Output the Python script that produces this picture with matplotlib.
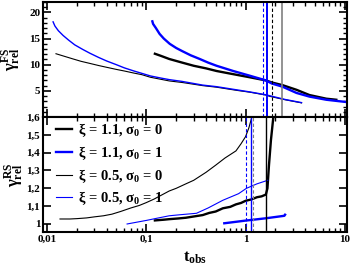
import matplotlib
matplotlib.use("Agg")
import matplotlib.pyplot as plt
from matplotlib.ticker import FixedLocator, LogLocator, NullFormatter

plt.rcParams['font.family'] = ['Liberation Serif', 'DejaVu Serif']
plt.rcParams['font.weight'] = 'bold'
plt.rcParams['mathtext.fontset'] = 'custom'
plt.rcParams['mathtext.rm'] = 'Liberation Serif:bold'
plt.rcParams['mathtext.it'] = 'Liberation Serif:bold'
plt.rcParams['mathtext.bf'] = 'Liberation Serif:bold'

# ---- FS (top panel) ----
fs_t_11_0 = [0.122, 0.14, 0.17, 0.23, 0.3, 0.4, 0.51, 0.7, 1.1, 1.6, 1.84, 2.35, 3.26, 4.4, 6.5, 8.2]
fs_g_11_0 = [12.1, 11.7, 11.1, 10.4, 9.8, 9.3, 8.8, 8.3, 7.6, 7.0, 6.6, 6.1, 5.2, 4.2, 3.5, 3.3]

fs_t_11_1 = [0.115, 0.117, 0.125, 0.136, 0.15, 0.172, 0.2, 0.23, 0.28, 0.345, 0.42, 0.51, 0.75, 1.1, 1.6,
             1.84, 2.35, 3.26, 4.4, 6.5, 10.5]
fs_g_11_1 = [18.3, 17.8, 17.0, 15.9, 15.0, 14.0, 13.2, 12.6, 11.8, 11.1, 10.4, 9.8, 8.8, 7.9, 7.0,
             6.4, 5.8, 4.6, 3.9, 3.3, 2.85]

fs_t_05_0 = [0.0123, 0.015, 0.0183, 0.022, 0.027, 0.033, 0.04, 0.05, 0.06, 0.075, 0.09, 0.11, 0.17,
             0.23, 0.37, 0.51, 0.81, 1.1, 1.6, 1.75, 2.5, 3.66]
fs_g_05_0 = [12.1, 11.6, 11.1, 10.65, 10.25, 9.85, 9.5, 9.1, 8.8, 8.4, 8.1, 7.6, 6.9,
             6.6, 6.0, 5.7, 5.1, 4.75, 4.2, 3.95, 3.3, 2.7]

fs_t_05_1 = [0.0115, 0.012, 0.013, 0.0145, 0.0165, 0.019, 0.023, 0.027, 0.033, 0.04, 0.05, 0.06, 0.075,
             0.09, 0.11, 0.14, 0.17, 0.23, 0.37, 0.51, 0.81, 1.1, 1.6, 2.5, 3.66]
fs_g_05_1 = [18.2, 17.4, 16.5, 15.6, 14.7, 13.8, 12.9, 12.2, 11.4, 10.7, 10.0, 9.4, 8.8,
             8.35, 7.85, 7.45, 7.15, 6.8, 6.1, 5.8, 5.2, 4.8, 4.25, 3.35, 2.75]

fs_vlines = [1.49, 1.64, 1.84, 2.35]

# ---- RS (bottom panel) ----
rs_t_11_0 = [0.122, 0.15, 0.17, 0.21, 0.25, 0.3, 0.37, 0.43, 0.5, 0.59, 0.7, 0.8, 0.9, 1.0, 1.15,
             1.3, 1.45, 1.6, 1.66, 1.72, 1.8, 1.92]
rs_g_11_0 = [1.02, 1.024, 1.027, 1.031, 1.035, 1.042, 1.05, 1.062, 1.07, 1.088, 1.096, 1.11, 1.118, 1.13, 1.138,
             1.15, 1.155, 1.165, 1.2, 1.33, 1.47, 1.62]

rs_t_11_1 = [0.61, 1.0, 1.6, 2.46, 2.5]
rs_g_11_1 = [1.004, 1.019, 1.032, 1.046, 1.052]

rs_t_05_0 = [0.0135, 0.017, 0.02, 0.025, 0.03, 0.037, 0.045, 0.055, 0.07, 0.085, 0.1, 0.12, 0.14, 0.17,
             0.2, 0.25, 0.3, 0.4, 0.5, 0.62, 0.8, 0.9, 1.0, 1.08, 1.17]
rs_g_05_0 = [1.028, 1.028, 1.03, 1.034, 1.04, 1.046, 1.055, 1.07, 1.09, 1.104, 1.12, 1.14, 1.16, 1.185,
             1.2, 1.225, 1.245, 1.29, 1.33, 1.37, 1.41, 1.45, 1.49, 1.54, 1.61]

rs_t_05_1 = [0.064, 0.08, 0.1, 0.13, 0.17, 0.22, 0.32, 0.42, 0.59, 0.85, 1.02, 1.3, 1.67]
rs_g_05_1 = [1.0, 1.01, 1.02, 1.033, 1.046, 1.052, 1.06, 1.09, 1.133, 1.17, 1.2, 1.225, 1.245]

rs_vlines = [1.02, 1.13, 1.18, 1.59]

labels = [r'ξ = 1.1, σ$_0$ = 0', r'ξ = 1.1, σ$_0$ = 1',
          r'ξ = 0.5, σ$_0$ = 0', r'ξ = 0.5, σ$_0$ = 1']

fs_yticks = [5, 10, 15, 20]
rs_yticks = [1.0, 1.1, 1.2, 1.3, 1.4, 1.5, 1.6]
rs_yticklabels = ['1', '1,1', '1,2', '1,3', '1,4', '1,5', '1,6']
xticks = [0.01, 0.1, 1, 10]
xticklabels = ['0,01', '0,1', '1', '10']

fig = plt.figure(figsize=(3.51, 2.65), dpi=100)
ax1 = fig.add_axes([0.1225, 0.5585, 0.866, 0.434])
ax2 = fig.add_axes([0.1225, 0.1245, 0.866, 0.434])

blue = '#0000ff'
thick = 1.7
thin = 0.8

ax1.plot(fs_t_05_0, fs_g_05_0, color='black', lw=thin)
ax1.plot(fs_t_05_1, fs_g_05_1, color=blue, lw=1.0)
ax1.plot(fs_t_11_0, fs_g_11_0, color='black', lw=thick)
ax1.plot(fs_t_11_1, fs_g_11_1, color=blue, lw=thick)
ax1.axvline(fs_vlines[0], color=blue, ls='--', lw=0.8, dashes=(3, 2))
ax1.axvline(fs_vlines[1], color=blue, lw=1.4)
ax1.axvline(fs_vlines[2], color='black', ls='--', lw=0.8, dashes=(3, 2))
ax1.axvline(fs_vlines[3], color='gray', lw=1.2)

ax2.plot(rs_t_11_0, rs_g_11_0, color='black', lw=thick, label=labels[0])
ax2.plot(rs_t_11_1, rs_g_11_1, color=blue, lw=thick, label=labels[1])
ax2.plot(rs_t_05_0, rs_g_05_0, color='black', lw=thin, label=labels[2])
ax2.plot(rs_t_05_1, rs_g_05_1, color=blue, lw=thin, label=labels[3])
ax2.axvline(rs_vlines[0], color=blue, ls='--', lw=0.8, dashes=(3, 2))
ax2.axvline(rs_vlines[1], color=blue, lw=1.0)
ax2.axvline(rs_vlines[2], color='gray', ls='--', lw=0.8, dashes=(3, 2))
ax2.axvline(rs_vlines[3], color='black', lw=1.0)

for ax in (ax1, ax2):
    ax.set_xscale('log')
    ax.set_xlim(0.0091, 10.5)
    ax.xaxis.set_major_locator(FixedLocator(xticks))
    ax.xaxis.set_minor_locator(LogLocator(base=10, subs=range(2, 10)))
    ax.xaxis.set_minor_formatter(NullFormatter())
    ax.tick_params(which='both', direction='in', top=True, right=True, labelsize=8, pad=2)
    ax.tick_params(which='major', length=6, width=1.2)
    ax.tick_params(which='minor', length=3, width=1.0)
    for s in ax.spines.values():
        s.set_linewidth(1.5)

ax1.set_ylim(0, 22)
ax1.set_yticks(fs_yticks)
ax1.yaxis.set_minor_locator(FixedLocator(range(1, 23)))
ax1.set_xticklabels([])
ax1.set_ylabel(r'$\gamma^{\rm FS}_{\rm rel}$', fontsize=12, labelpad=5)

ax2.set_ylim(0.955, 1.6)
ax2.set_yticks(rs_yticks)
ax2.set_yticklabels(rs_yticklabels)
ax2.set_xticklabels(xticklabels)
ax2.set_ylabel(r'$\gamma^{\rm RS}_{\rm rel}$', fontsize=12, labelpad=1)
ax2.set_xlabel(r'$\rm t_{obs}$', fontsize=12, labelpad=4)

ax2.legend(loc='upper left', frameon=False, fontsize=10.5, handlelength=1.05,
           handletextpad=0.4, labelspacing=0.33, borderaxespad=0.1,
           borderpad=0.2, bbox_to_anchor=(0.03, 1.0))

fig.savefig('out.png', dpi=100)
